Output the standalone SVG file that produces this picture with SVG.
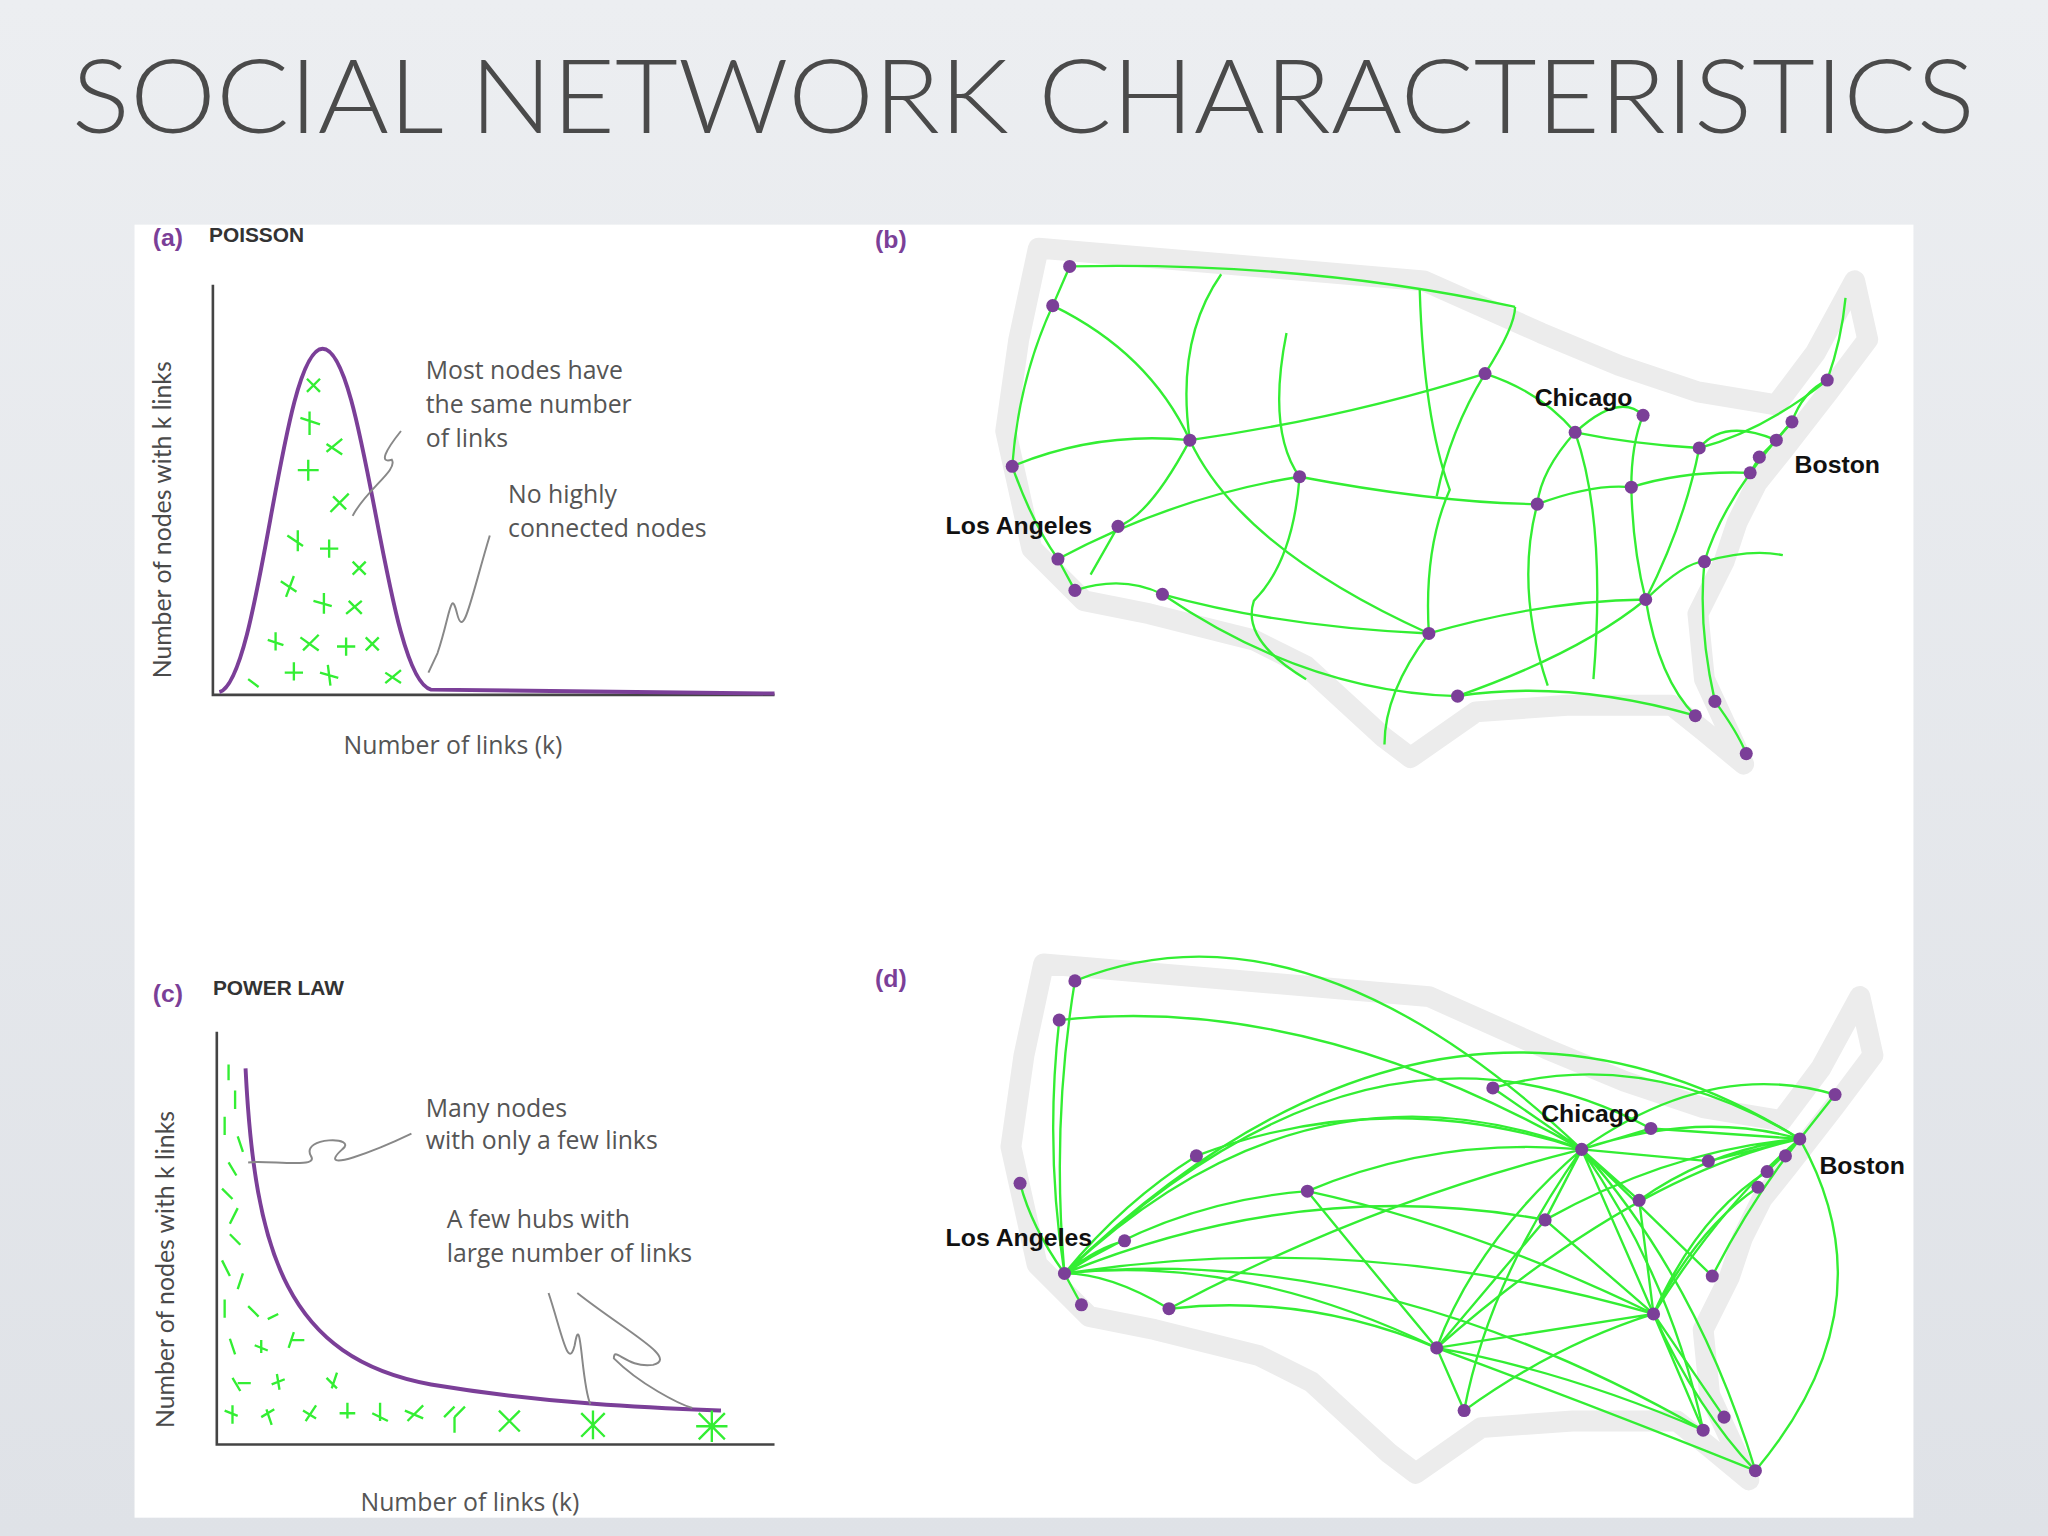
<svg xmlns="http://www.w3.org/2000/svg" width="2048" height="1536" viewBox="0 0 2048 1536">
<defs>
<linearGradient id="bg" x1="0" y1="0" x2="0" y2="1"><stop offset="0" stop-color="#eceef1"/><stop offset="1" stop-color="#dfe2e7"/></linearGradient>
<path id="us" d="M795,190 L1090,215 L1180,255 L1240,280 L1300,300 L1360,310 L1390,270 L1420,215 L1430,260 L1400,300 L1365,345 L1345,370 L1330,400 L1320,430 L1300,470 L1305,520 L1335,585 L1305,560 L1280,540 L1200,540 L1130,545 L1080,580 L1060,565 L1000,510 L960,490 L880,470 L830,460 L790,420 L770,330 L780,260 Z"/>
</defs>
<style>
.t{font-family:Lato,"Open Sans",sans-serif;fill:#4a4a4a}
.ann{font-family:"Open Sans",sans-serif;font-size:19px;fill:#555}
.lab{font-family:"Liberation Sans",sans-serif;font-weight:bold;font-size:19px;fill:#7b3f98}
.hd{font-family:"Liberation Sans",sans-serif;font-weight:bold;font-size:16px;fill:#333}
.city{font-family:"Liberation Sans",sans-serif;font-weight:bold;font-size:19px;fill:#111}
.g path,.g line{fill:none;stroke:#33ee33;stroke-width:1.8}
.n circle{fill:#7b3f98}
.ax{stroke:#444;stroke-width:2;fill:none}
.cv{stroke:#7b3f98;stroke-width:3;fill:none}
.sq{stroke:#888;stroke-width:1.5;fill:none}
.out{fill:none;stroke:#ececec;stroke-width:16;stroke-linejoin:round}
</style>
<rect width="2048" height="1536" fill="url(#bg)"/>
<g transform="scale(1.3061)">
<text class="t" x="55" y="102" font-size="78" font-weight="300" textLength="1457" lengthAdjust="spacingAndGlyphs">SOCIAL NETWORK CHARACTERISTICS</text>
<rect x="103" y="172" width="1362" height="990" fill="#fff"/>

<g id="panel-a">
<text class="lab" x="117" y="188">(a)</text><text class="hd" x="160" y="185">POISSON</text>
<path class="ax" d="M163,218 V532 H593"/>
<path class="cv" d="M168,530 C200,520 215,267 247,267 C280,267 295,520 330,528 L593,531"/>
<g class="g">
<path d="M235,290 l10,10 m-10,0 l10,-10 M230,320 l15,5 m-8,-10 v18 M250,340 l12,8 m0,-12 l-12,10 M228,360 l16,0 m-8,-8 v16 M255,380 l10,10 m-12,2 l14,-14 M220,410 l12,8 m-4,-12 v16 M245,420 l14,0 m-7,-7 v14 M270,430 l10,10 m0,-10 l-10,10 M215,445 l12,8 m-2,-12 l-6,16 M240,460 l14,4 m-6,-10 v16 M265,470 l12,-10 m-10,0 l10,10 M205,490 l12,4 m-6,-10 v14 M230,488 l14,10 m0,-12 l-12,12 M258,495 l14,0 m-7,-7 v14 M280,488 l10,10 m0,-10 l-10,10 M218,515 l14,0 m-7,-8 v14 M245,515 l14,4 m-8,-10 l2,16 M295,515 l12,8 m0,-10 l-12,10 M190,520 l8,6"/>
</g>
<text class="ann" x="326" y="290">Most nodes have</text><text class="ann" x="326" y="316">the same number</text><text class="ann" x="326" y="342">of links</text>
<text class="ann" x="389" y="385">No highly</text><text class="ann" x="389" y="411">connected nodes</text>
<path class="sq" d="M307,330 C295,345 290,355 300,352 C305,360 280,375 270,395 M375,410 C360,460 355,490 350,470 C345,450 345,470 335,500 L328,515"/>
<text class="t" transform="translate(131,398) rotate(-90)" text-anchor="middle" font-size="19" font-family="Open Sans">Number of nodes with k links</text>
<text class="ann" x="263" y="577">Number of links (k)</text>
</g>

<g id="panel-c">
<text class="lab" x="117" y="767">(c)</text><text class="hd" x="163" y="762">POWER LAW</text>
<path class="ax" d="M166,790 V1106 H593"/>
<path class="cv" d="M188,818 C195,960 220,1040 330,1060 C420,1075 500,1078 552,1080"/>
<g class="g">
<path d="M175,815 v12 M180,835 v14 M172,855 v14 M182,870 l4,12 M175,890 l6,10 M170,910 l8,8 M182,925 l-6,12 M176,945 l8,8 M170,965 l6,12 M186,975 l-4,12 M172,995 v14 M190,1000 l8,8 M205,1010 l8,-4 M176,1025 l4,12 M195,1030 l10,4 m-5,-8 v10 M225,1020 l-4,12 m2,-6 h10 M178,1055 l6,10 m-2,-6 h10 M208,1060 l10,-4 m-6,-4 l2,12 M250,1055 l8,8 m0,-12 l-4,12 M172,1080 l10,4 m-4,-8 v14 M200,1085 l10,-6 m-6,0 l4,12 M232,1080 l10,6 m0,-10 l-8,12 M260,1082 l12,0 m-6,-8 v12 M285,1082 l12,6 m-6,-14 v14 M310,1080 l14,6 m0,-10 l-12,12 M340,1085 l8,-8 m0,8 l8,-8 m-8,8 v12 M382,1080 l16,16 m0,-16 l-16,16 M445,1082 l18,18 m0,-18 l-18,18 M454,1080 v22 M535,1082 l20,20 m0,-20 l-20,20 M545,1080 v24 M533,1092 h24"/>
</g>
<text class="ann" x="326" y="855">Many nodes</text><text class="ann" x="326" y="880">with only a few links</text>
<text class="ann" x="342" y="940">A few hubs with</text><text class="ann" x="342" y="966">large number of links</text>
<path class="sq" d="M315,868 C290,880 240,900 262,880 C275,870 230,870 238,885 C245,895 205,888 190,890 M420,990 C430,1020 435,1050 440,1030 C445,1000 445,1060 452,1075 M442,990 C480,1020 520,1040 500,1045 C480,1048 470,1030 470,1040 C490,1060 520,1075 530,1078"/>
<text class="t" transform="translate(133,972) rotate(-90)" text-anchor="middle" font-size="19" font-family="Open Sans">Number of nodes with k links</text>
<text class="ann" x="276" y="1157">Number of links (k)</text>
</g>

<g id="map-b">
<text class="lab" x="670" y="190">(b)</text>
<use href="#us" class="out"/>
<g class="g">
<path d="M819,204 L806,234 Q780,290 775,357 Q790,400 810,428 L823,452"/>
<path d="M775,357 Q840,330 911,337 Q1030,320 1137,286 Q1180,300 1206,331 Q1250,340 1301,343 Q1350,330 1399,291"/>
<path d="M810,428 Q900,380 995,365 Q1100,385 1177,386 Q1220,370 1249,373 Q1290,360 1340,362"/>
<path d="M823,452 Q860,440 890,455 Q980,480 1094,485 Q1180,460 1260,459 Q1290,430 1305,430 Q1340,420 1365,425"/>
<path d="M890,455 Q1000,530 1116,533 Q1200,520 1298,548"/>
<path d="M806,234 Q880,270 911,337"/>
<path d="M819,204 Q1000,200 1160,235"/>
<path d="M911,337 Q900,260 935,210 M911,337 Q880,395 856,403 L835,440"/>
<path d="M985,255 Q970,330 995,365 Q990,430 960,460 Q950,490 1000,520"/>
<path d="M1087,222 Q1090,320 1110,375 Q1090,420 1094,485 Q1060,530 1060,570"/>
<path d="M1137,286 Q1160,250 1160,235 M1137,286 Q1110,330 1100,380"/>
<path d="M1206,331 Q1180,360 1177,386 Q1160,450 1185,525"/>
<path d="M1206,331 Q1230,400 1220,520 M1206,331 Q1240,300 1258,318"/>
<path d="M1258,318 Q1249,340 1249,373 Q1250,420 1260,459 Q1270,520 1298,548"/>
<path d="M1301,343 Q1290,400 1260,459 M1260,459 Q1210,500 1116,533"/>
<path d="M1340,362 L1347,350 L1360,337 L1372,323 Q1380,300 1399,291 Q1410,260 1413,228"/>
<path d="M1372,323 Q1320,380 1305,430 Q1300,480 1313,537 Q1330,560 1337,577"/>
<path d="M911,337 Q950,420 1094,485 M1301,343 Q1320,320 1360,337"/>
</g>
<g class="n">
<circle cx="819" cy="204" r="5"/><circle cx="806" cy="234" r="5"/><circle cx="775" cy="357" r="5"/><circle cx="856" cy="403" r="5"/><circle cx="810" cy="428" r="5"/><circle cx="823" cy="452" r="5"/><circle cx="890" cy="455" r="5"/><circle cx="911" cy="337" r="5"/><circle cx="995" cy="365" r="5"/><circle cx="1137" cy="286" r="5"/><circle cx="1206" cy="331" r="5"/><circle cx="1258" cy="318" r="5"/><circle cx="1301" cy="343" r="5"/><circle cx="1399" cy="291" r="5"/><circle cx="1372" cy="323" r="5"/><circle cx="1360" cy="337" r="5"/><circle cx="1347" cy="350" r="5"/><circle cx="1340" cy="362" r="5"/><circle cx="1249" cy="373" r="5"/><circle cx="1177" cy="386" r="5"/><circle cx="1305" cy="430" r="5"/><circle cx="1260" cy="459" r="5"/><circle cx="1094" cy="485" r="5"/><circle cx="1116" cy="533" r="5"/><circle cx="1298" cy="548" r="5"/><circle cx="1313" cy="537" r="5"/><circle cx="1337" cy="577" r="5"/>
</g>
<text class="city" x="1175" y="311">Chicago</text><text class="city" x="1374" y="362">Boston</text><text class="city" x="724" y="409">Los Angeles</text>
</g>

<g id="map-d">
<text class="lab" x="670" y="756">(d)</text>
<use href="#us" class="out" transform="translate(4,548)"/>
<g class="g">
<path d="M815,975 Q805,860 823,751 M815,975 Q800,880 811,781 M815,975 Q790,940 781,906 M815,975 Q840,955 861,950 M815,975 L828,999 M815,975 Q850,975 895,1002 M815,975 Q860,920 916,885 M815,975 Q900,920 1001,912 M815,975 Q1000,800 1211,880 M815,975 Q1050,750 1264,864 M815,975 Q1100,700 1378,872 M815,975 Q950,960 1100,1032 M815,975 Q1040,940 1266,1006 M815,975 Q1000,900 1183,934 M815,975 Q1050,950 1304,1095"/>
<path d="M1211,880 Q1000,680 823,751 M1211,880 Q1000,760 811,781 M1211,880 L1143,833 M1211,880 L1264,864 M1211,880 L1308,889 M1211,880 Q1310,810 1405,838 M1211,880 Q1300,850 1378,872 M1211,880 L1255,919 M1211,880 L1183,934 M1211,880 L1311,977 M1211,880 L1266,1006 M1211,880 Q1130,950 1100,1032 M1211,880 Q1140,980 1121,1080 M1211,880 Q1280,980 1304,1095 M1211,880 Q1300,980 1344,1126 M1211,880 Q1100,870 1001,912 M1211,880 Q1060,830 916,885 M1211,880 Q1050,920 895,1002"/>
<path d="M1378,872 Q1260,800 1143,833 M1378,872 L1264,864 M1378,872 L1308,889 M1378,872 Q1310,880 1255,919 M1378,872 Q1340,920 1311,977 M1378,872 Q1320,920 1266,1006 M1378,872 Q1250,900 1100,1032 M1378,872 Q1280,880 1183,934 M1378,872 Q1450,1000 1344,1126 M1378,872 L1405,838 M1378,872 L1367,885 M1378,872 L1353,897"/>
<path d="M1266,1006 Q1130,940 1001,912 M1266,1006 L1100,1032 M1266,1006 Q1190,1030 1121,1080 M1266,1006 L1304,1095 M1266,1006 L1320,1085 M1266,1006 Q1300,1080 1344,1126 M1266,1006 L1183,934 M1266,1006 L1255,919 M1266,1006 Q1300,940 1346,909 M1266,1006 Q1300,930 1353,897"/>
<path d="M1100,1032 Q1040,960 1001,912 M1100,1032 Q1000,990 895,1002 M1100,1032 L1121,1080 M1100,1032 L1183,934 M1100,1032 Q1200,1050 1304,1095 M1100,1032 Q1230,1080 1344,1126"/>
</g>
<g class="n">
<circle cx="823" cy="751" r="5"/><circle cx="811" cy="781" r="5"/><circle cx="781" cy="906" r="5"/><circle cx="861" cy="950" r="5"/><circle cx="815" cy="975" r="5"/><circle cx="828" cy="999" r="5"/><circle cx="895" cy="1002" r="5"/><circle cx="916" cy="885" r="5"/><circle cx="1001" cy="912" r="5"/><circle cx="1143" cy="833" r="5"/><circle cx="1211" cy="880" r="5"/><circle cx="1264" cy="864" r="5"/><circle cx="1308" cy="889" r="5"/><circle cx="1405" cy="838" r="5"/><circle cx="1378" cy="872" r="5"/><circle cx="1367" cy="885" r="5"/><circle cx="1353" cy="897" r="5"/><circle cx="1346" cy="909" r="5"/><circle cx="1255" cy="919" r="5"/><circle cx="1183" cy="934" r="5"/><circle cx="1311" cy="977" r="5"/><circle cx="1266" cy="1006" r="5"/><circle cx="1100" cy="1032" r="5"/><circle cx="1121" cy="1080" r="5"/><circle cx="1304" cy="1095" r="5"/><circle cx="1320" cy="1085" r="5"/><circle cx="1344" cy="1126" r="5"/>
</g>
<text class="city" x="1180" y="859">Chicago</text><text class="city" x="1393" y="899">Boston</text><text class="city" x="724" y="954">Los Angeles</text>
</g>
</g>
</svg>
